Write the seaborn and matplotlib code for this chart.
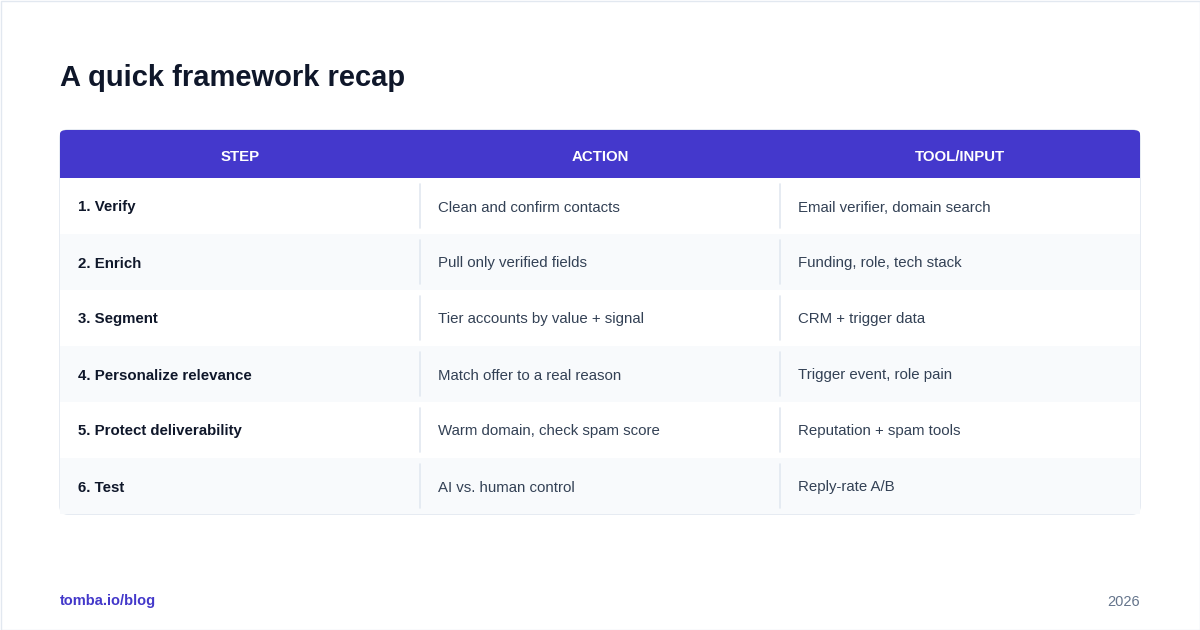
import matplotlib
matplotlib.use("Agg")
import matplotlib.pyplot as plt
from matplotlib.colors import ListedColormap
from matplotlib.patches import FancyBboxPatch, Rectangle
import numpy as np
import seaborn as sns

title = "A quick framework recap"
headers = ["STEP", "ACTION", "TOOL/INPUT"]
steps = ["1. Verify", "2. Enrich", "3. Segment", "4. Personalize relevance",
         "5. Protect deliverability", "6. Test"]
actions = ["Clean and confirm contacts", "Pull only verified fields",
           "Tier accounts by value + signal", "Match offer to a real reason",
           "Warm domain, check spam score", "AI vs. human control"]
tools = ["Email verifier, domain search", "Funding, role, tech stack",
         "CRM + trigger data", "Trigger event, role pain",
         "Reputation + spam tools", "Reply-rate A/B"]
footer_left = "tomba.io/blog"
footer_right = "2026"

sns.set_theme(style="white")
plt.rcParams['font.family'] = ['Liberation Sans', 'DejaVu Sans']

W, H = 1200, 630
fig = plt.figure(figsize=(12, 6.3), dpi=100)
fig.patch.set_facecolor("white")

def fax(x0, y0, x1, y1):
    return fig.add_axes([x0 / W, 1 - y1 / H, (x1 - x0) / W, (y1 - y0) / H])

bg = fax(0, 0, W, H)
bg.set_xlim(0, W); bg.set_ylim(H, 0); bg.axis("off")
bg.add_patch(Rectangle((0.5, 0.5), W - 1, H - 1, fill=False, ec="#e2e8f0", lw=1))
bg.add_patch(FancyBboxPatch((60, 130), 1080, 384, boxstyle="round,pad=0,rounding_size=8",
                            fc="white", ec="#e2e8f0", lw=1.2))
bg.text(60, 75, title, fontsize=21, fontweight="bold", color="#0f172a", va="center_baseline")
bg.text(60, 600, footer_left, fontsize=10.5, fontweight="bold", color="#4338ca", va="center_baseline")
bg.text(1140, 600, footer_right, fontsize=10.5, color="#64748b", va="center_baseline", ha="right")

hx = fax(60, 130, 1140, 178)
hx.set_xlim(0, 3); hx.set_ylim(1, 0); hx.axis("off")
hx.add_patch(FancyBboxPatch((0, 0), 3, 1.5, boxstyle="round,pad=0,rounding_size=0.02",
                            fc="#4438cc", ec="none", mutation_aspect=4))
for i, h in enumerate(headers):
    hx.text(i + 0.5, 0.53, h, ha="center", va="center_baseline", color="white",
            fontsize=10.8, fontweight="bold")

n = len(steps)
stripe = np.array([[i % 2] * 3 for i in range(n)])
bx = fax(60, 178, 1140, 514)
sns.heatmap(stripe, ax=bx, cmap=ListedColormap(["#ffffff", "#f8fafc"]), cbar=False,
            xticklabels=False, yticklabels=False, linewidths=0)
bx.axis("off")
for r in range(n):
    for c, (col, bold, color) in enumerate([(steps, True, "#0f172a"),
                                            (actions, False, "#334155"),
                                            (tools, False, "#334155")]):
        bx.text(c + 18 / 360, r + 0.5, col[r], va="center_baseline", ha="left", fontsize=10.8,
                fontweight="bold" if bold else "normal", color=color)
    for c in (1, 2):
        bx.plot([c, c], [r + 6 / 56, r + 50 / 56], color="#e2e8f0", lw=1.2)

fig.savefig("out.png", dpi=100, facecolor="white")
